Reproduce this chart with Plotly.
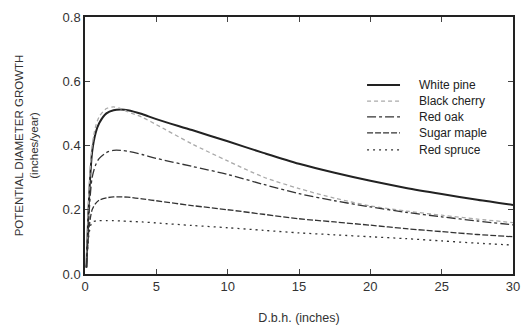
import plotly.graph_objects as go

dbh = [0.1, 0.3, 0.5, 0.75, 1, 1.5, 2, 2.5, 3, 4, 5, 7.5, 10, 12.5, 15, 17.5, 20, 22.5, 25, 27.5, 30]
white_pine = [0.02, 0.25, 0.38, 0.44, 0.47, 0.50, 0.51, 0.512, 0.51, 0.498, 0.482, 0.448, 0.413, 0.377, 0.343, 0.315, 0.29, 0.268, 0.249, 0.231, 0.215]
black_cherry = [0.02, 0.28, 0.40, 0.46, 0.49, 0.515, 0.52, 0.515, 0.505, 0.488, 0.465, 0.405, 0.352, 0.302, 0.266, 0.236, 0.212, 0.196, 0.183, 0.171, 0.16]
red_oak = [0.02, 0.20, 0.30, 0.34, 0.36, 0.378, 0.385, 0.385, 0.382, 0.372, 0.36, 0.335, 0.31, 0.279, 0.25, 0.228, 0.209, 0.192, 0.178, 0.165, 0.153]
sugar_maple = [0.02, 0.15, 0.20, 0.22, 0.23, 0.237, 0.24, 0.24, 0.239, 0.234, 0.228, 0.213, 0.2, 0.186, 0.172, 0.162, 0.152, 0.141, 0.132, 0.123, 0.116]
red_spruce = [0.02, 0.13, 0.162, 0.165, 0.166, 0.166, 0.166, 0.165, 0.164, 0.162, 0.159, 0.151, 0.144, 0.136, 0.128, 0.122, 0.116, 0.11, 0.103, 0.096, 0.09]
x_ticks = [0, 5, 10, 15, 20, 25, 30]
y_ticks = [0, 0.2, 0.4, 0.6, 0.8]

series = [
    ("White pine", white_pine, dict(color="#222222", width=2, dash="solid")),
    ("Black cherry", black_cherry, dict(color="#aaaaaa", width=1.3, dash="4px,3px")),
    ("Red oak", red_oak, dict(color="#333333", width=1.3, dash="dashdot")),
    ("Sugar maple", sugar_maple, dict(color="#333333", width=1.3, dash="6px,2px")),
    ("Red spruce", red_spruce, dict(color="#333333", width=1.3, dash="2px,4px")),
]

font = "Liberation Sans, Arial, sans-serif"
fig = go.Figure()
legend_y = [0.735, 0.673, 0.611, 0.549, 0.483]
for i, (name, vals, line) in enumerate(series):
    fig.add_trace(go.Scatter(x=dbh, y=vals, mode="lines", name=name, line=line,
                             line_shape="spline", line_smoothing=0.8, showlegend=False))
    fig.add_shape(type="line", xref="paper", yref="paper", x0=0.659, x1=0.736,
                  y0=legend_y[i], y1=legend_y[i], line=line)
    fig.add_annotation(xref="paper", yref="paper", x=0.776, y=legend_y[i], text=name,
                       showarrow=False, xanchor="left", yanchor="middle",
                       font=dict(size=12, family=font, color="#222222"))

fig.update_layout(
    width=522, height=328,
    margin=dict(l=85, r=9, t=17, b=54, autoexpand=False),
    paper_bgcolor="white", plot_bgcolor="white",
    font=dict(family=font, color="#333333", size=12),
    showlegend=False,
)
fig.update_xaxes(range=[0, 30], tickvals=x_ticks, ticks="inside", ticklen=5, automargin=False,
                 showline=True, linecolor="#222222", linewidth=1.5, mirror="ticks", showgrid=False,
                 zeroline=False, title=dict(text="D.b.h. (inches)", font=dict(size=12.5), standoff=20),
                 tickfont=dict(size=13))
fig.update_yaxes(range=[0, 0.8], tickvals=y_ticks, tickformat=".1f", ticks="inside", ticklen=5, automargin=False,
                 showline=True, linecolor="#222222", linewidth=1.5, mirror="ticks", showgrid=False,
                 zeroline=False, title=dict(text="POTENTIAL DIAMETER GROWTH<br>(inches/year)", font=dict(size=11.5), standoff=22),
                 tickfont=dict(size=13))
fig.write_html("out.html", config={"displayModeBar": False},
               post_script="document.body.style.margin='0px';document.body.style.overflow='hidden';")
